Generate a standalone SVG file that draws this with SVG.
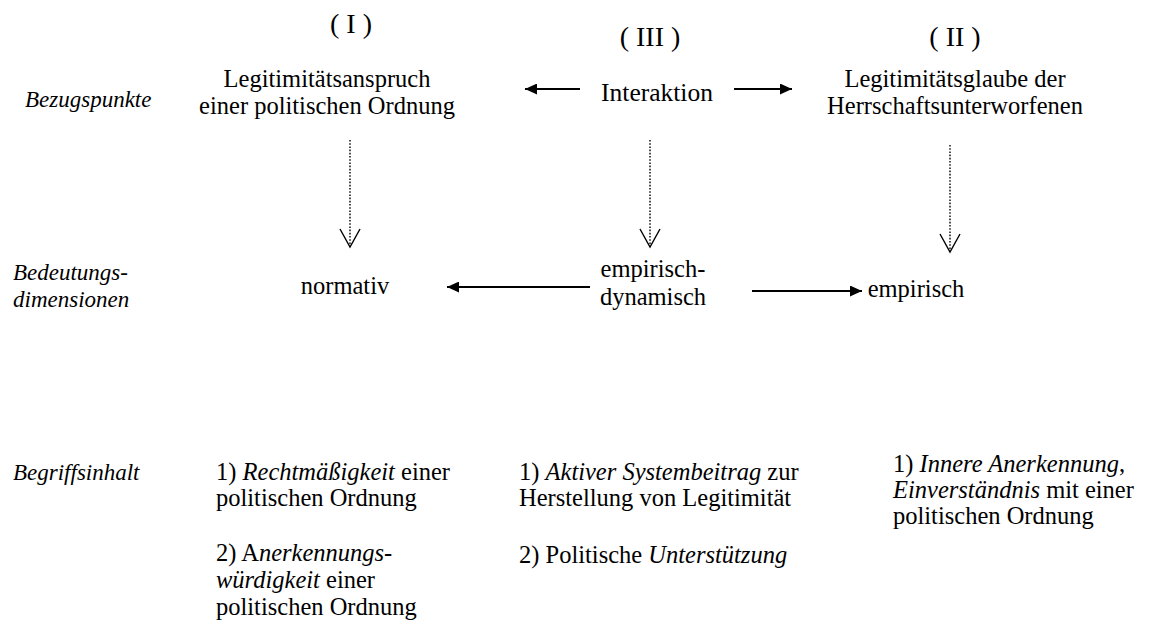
<svg xmlns="http://www.w3.org/2000/svg" width="1159" height="632" viewBox="0 0 1159 632" font-family="'Liberation Serif', 'Times New Roman', serif">
<style>
text{font-size:24.5px;fill:#000}
.c{text-anchor:middle}
.i{font-style:italic}
.lab{font-size:23px;font-style:italic}
.r{font-size:28px}
.solid{stroke:#000;stroke-width:2.2;fill:none}
.dot{stroke:#000;stroke-width:1.4;stroke-dasharray:1.6 1.6;fill:none}
.v{stroke:#000;stroke-width:1.4;fill:none}
</style>
<defs>
<marker id="ah" viewBox="0 0 10 10" refX="10" refY="5" markerWidth="12" markerHeight="11" markerUnits="userSpaceOnUse" orient="auto" preserveAspectRatio="none">
<path d="M0,0 L10,5 L0,10 Z" fill="#000"/>
</marker>
</defs>
<rect width="1159" height="632" fill="#fff"/>
<g id="labels">
<text class="lab" x="25" y="107">Bezugspunkte</text>
<text class="lab" x="13" y="280">Bedeutungs-</text>
<text class="lab" x="13" y="307">dimensionen</text>
<text class="lab" x="13" y="480">Begriffsinhalt</text>
</g>
<g id="node-I">
<text class="c r" x="351" y="33">( I )</text>
<text class="c" x="327" y="87">Legitimitätsanspruch</text>
<text class="c" x="327" y="114">einer politischen Ordnung</text>
</g>
<g id="node-III">
<text class="c r" x="650" y="46">( III )</text>
<text class="c" x="657" y="101" style="font-size:25.5px">Interaktion</text>
</g>
<g id="node-II">
<text class="c r" x="955" y="46">( II )</text>
<text class="c" x="955" y="87">Legitimitätsglaube der</text>
<text class="c" x="955" y="114">Herrschaftsunterworfenen</text>
</g>
<g id="normativ">
<text class="c" x="345" y="294">normativ</text>
</g>
<g id="empirisch-dynamisch">
<text class="c" x="653" y="277">empirisch-</text>
<text class="c" x="653" y="305">dynamisch</text>
</g>
<g id="empirisch">
<text class="c" x="916" y="297">empirisch</text>
</g>
<g id="inhalt-I">
<text x="216" y="480">1) <tspan class="i">Rechtmäßigkeit</tspan> einer</text>
<text x="216" y="506">politischen Ordnung</text>
<text x="216" y="561">2) A<tspan class="i">nerkennungs-</tspan></text>
<text x="216" y="588"><tspan class="i">würdigkeit</tspan> einer</text>
<text x="216" y="615">politischen Ordnung</text>
</g>
<g id="inhalt-III">
<text x="519" y="480">1) <tspan class="i">Aktiver Systembeitrag</tspan> zur</text>
<text x="519" y="506">Herstellung von Legitimität</text>
<text x="519" y="563">2) Politische <tspan class="i">Unterstützung</tspan></text>
</g>
<g id="inhalt-II">
<text x="893" y="472">1) <tspan class="i">Innere Anerkennung</tspan>,</text>
<text x="893" y="498"><tspan class="i">Einverständnis</tspan> mit einer</text>
<text x="893" y="524">politischen Ordnung</text>
</g>
<g id="connectors">
<line class="solid" x1="580" y1="89" x2="525" y2="89" marker-end="url(#ah)"/>
<line class="solid" x1="734" y1="89" x2="792" y2="89" marker-end="url(#ah)"/>
<line class="solid" x1="590" y1="287" x2="447" y2="287" marker-end="url(#ah)"/>
<line class="solid" x1="752" y1="291" x2="862" y2="291" marker-end="url(#ah)"/>
<line class="dot" x1="350" y1="140" x2="350" y2="245"/>
<path class="v" d="M340,229 L350,247 L360,229"/>
<line class="dot" x1="650" y1="140" x2="650" y2="245"/>
<path class="v" d="M640,229 L650,247 L660,229"/>
<line class="dot" x1="950" y1="145" x2="950" y2="250"/>
<path class="v" d="M940,234 L950,252 L960,234"/>
</g>
</svg>
